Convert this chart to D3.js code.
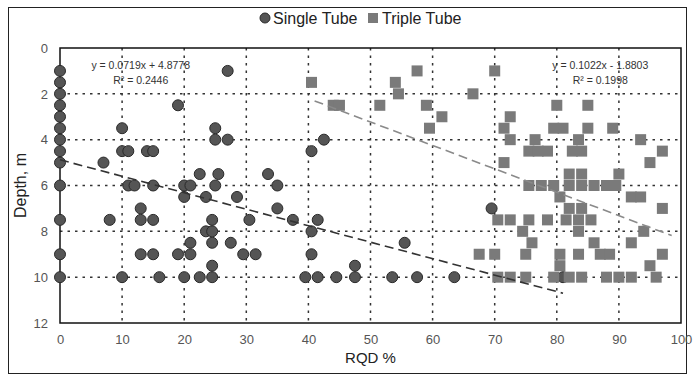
<!DOCTYPE html>
<html>
<head>
<meta charset="utf-8">
<script src="https://cdn.jsdelivr.net/npm/d3@7"></script>
<style>
  body { margin: 0; background: #fff; }
  svg { display: block; font-family: 'Liberation Sans', Arial, sans-serif; }
</style>
</head>
<body>
<div id="chart"></div>
<script>
// [RQD %, depth m]
const singleTube = [
  [0, 1], [0, 1.5], [0, 2], [0, 2.5], [0, 3], [0, 3.5], [0, 4], [0, 4.5], [0, 5],
  [0, 6], [0, 7.5], [0, 9], [0, 10],
  [27, 1], [19, 2.5], [10, 3.5], [25, 3.5], [25, 4], [27, 4], [42.5, 4],
  [10, 4.5], [11, 4.5], [14, 4.5], [15, 4.5], [40.5, 4.5], [7, 5],
  [22.5, 5.5], [25.5, 5.5], [33.5, 5.5],
  [11, 6], [12, 6], [15, 6], [20, 6], [21, 6], [25, 6], [35, 6],
  [20, 6.5], [23.5, 6.5], [28.5, 6.5],
  [13, 7], [35, 7], [69.5, 7],
  [8, 7.5], [13, 7.5], [15, 7.5], [24.5, 7.5], [30.5, 7.5], [37.5, 7.5], [41.5, 7.5],
  [23.5, 8], [24.5, 8], [40.5, 8],
  [21, 8.5], [24.5, 8.5], [27.5, 8.5], [55.5, 8.5],
  [13, 9], [15, 9], [19, 9], [21, 9], [29.5, 9], [31.5, 9], [40.5, 9],
  [24.5, 9.5], [47.5, 9.5],
  [10, 10], [16, 10], [20, 10], [22.5, 10], [24.5, 10], [39.5, 10], [41.5, 10],
  [44.5, 10], [47.5, 10], [53.5, 10], [57.5, 10], [63.5, 10], [81, 10]
]

const tripleTube = [
  [40.5, 1.5], [44, 2.5], [45, 2.5], [51.5, 2.5], [54, 1.5], [54.5, 2], [57.5, 1],
  [59, 2.5], [59.5, 3.5], [61.5, 3], [66.5, 2], [70, 1],
  [72.5, 3], [71.5, 3.5], [72.5, 4], [75.5, 4.5], [71.5, 5],
  [80, 2.5], [85, 2.5],
  [79.5, 3.5], [81, 3.5], [85, 3.5], [89, 3.5],
  [76.5, 4], [83.5, 4], [93.5, 4],
  [77, 4.5], [78.5, 4.5], [82.5, 4.5], [84, 4.5], [97, 4.5],
  [95, 5],
  [82, 5.5], [84, 5.5], [90, 5.5],
  [75.5, 6], [77.5, 6], [79.5, 6], [82, 6], [84, 6], [86, 6], [88, 6], [89.5, 6],
  [80.5, 6.5], [92, 6.5], [93.5, 6.5],
  [82, 7], [84, 7], [97, 7],
  [70.5, 7.5], [72.5, 7.5], [75.5, 7.5], [78.5, 7.5], [81.5, 7.5], [83.5, 7.5], [85.5, 7.5],
  [74.5, 8], [83.5, 8], [94, 8],
  [76, 8.5], [86, 8.5], [92, 8.5],
  [67.5, 9], [70, 9], [75, 9], [80.5, 9], [83.5, 9], [87, 9], [88.5, 9], [97, 9],
  [80.5, 9.5], [95, 9.5],
  [70.5, 10], [72.5, 10], [75, 10], [79.5, 10], [82, 10], [84, 10], [88, 10], [90, 10],
  [92, 10], [96, 10]
]

// trendlines: slope, intercept, x range
const singleTrend = { m: 0.0719, b: 4.8778, from: 0, to: 81 }
const tripleTrend = { m: 0.1022, b: -1.8803, from: 41, to: 98.5 }

const xTicks = [0, 10, 20, 30, 40, 50, 60, 70, 80, 90, 100]
const yTicks = [0, 2, 4, 6, 8, 10, 12]

const width = 694
const height = 379
const margin = { top: 48, right: 13, bottom: 56, left: 60 }
const innerW = width - margin.left - margin.right
const innerH = height - margin.top - margin.bottom

const svg = d3.select('#chart')
  .append('svg')
  .attr('width', width)
  .attr('height', height)

// outer frame
svg.append('rect')
  .attr('x', 8.5)
  .attr('y', 7.5)
  .attr('width', 678)
  .attr('height', 366)
  .attr('fill', 'none')
  .attr('stroke', '#222')
  .attr('stroke-width', 1)

const x = d3.scaleLinear().domain([0, 100]).range([0, innerW])
const y = d3.scaleLinear().domain([0, 12]).range([0, innerH])

const g = svg.append('g')
  .attr('transform', `translate(${margin.left}, ${margin.top})`)

// grid
g.append('g')
  .selectAll('line')
  .data(xTicks.slice(1, -1))
  .enter()
  .append('line')
  .attr('x1', d => x(d))
  .attr('x2', d => x(d))
  .attr('y1', 0)
  .attr('y2', innerH)
  .attr('stroke', '#333')
  .attr('stroke-width', 1.5)
  .attr('stroke-dasharray', '2.5,5')

g.append('g')
  .selectAll('line')
  .data(yTicks.slice(1, -1))
  .enter()
  .append('line')
  .attr('x1', 0)
  .attr('x2', innerW)
  .attr('y1', d => y(d))
  .attr('y2', d => y(d))
  .attr('stroke', '#333')
  .attr('stroke-width', 1.5)
  .attr('stroke-dasharray', '2.5,5')

// axes (labels only, frame drawn separately)
const xAxis = g.append('g')
  .attr('transform', `translate(0, ${innerH})`)
  .call(d3.axisBottom(x).tickValues(xTicks).tickSize(0).tickPadding(12))
xAxis.select('.domain').remove()
xAxis.selectAll('text')
  .attr('font-size', '13px')
  .attr('fill', '#555')
  .attr('font-family', 'Liberation Sans, Arial, sans-serif')

const yAxis = g.append('g')
  .call(d3.axisLeft(y).tickValues(yTicks).tickSize(0).tickPadding(12))
yAxis.select('.domain').remove()
yAxis.selectAll('text')
  .attr('font-size', '13px')
  .attr('fill', '#555')
  .attr('font-family', 'Liberation Sans, Arial, sans-serif')

// plot frame
g.append('rect')
  .attr('width', innerW)
  .attr('height', innerH)
  .attr('fill', 'none')
  .attr('stroke', '#111')
  .attr('stroke-width', 1.5)

// single tube
g.append('g')
  .selectAll('circle')
  .data(singleTube)
  .enter()
  .append('circle')
  .attr('cx', d => x(d[0]))
  .attr('cy', d => y(d[1]))
  .attr('r', 5.5)
  .attr('fill', '#555')
  .attr('stroke', '#2a2a2a')
  .attr('stroke-width', 1)

// triple tube
const sq = 11
g.append('g')
  .selectAll('rect')
  .data(tripleTube)
  .enter()
  .append('rect')
  .attr('x', d => x(d[0]) - sq / 2)
  .attr('y', d => y(d[1]) - sq / 2)
  .attr('width', sq)
  .attr('height', sq)
  .attr('fill', '#7a7a7a')

// trendlines
function trend(t, color) {
  g.append('line')
    .attr('x1', x(t.from))
    .attr('y1', y(t.m * t.from + t.b))
    .attr('x2', x(t.to))
    .attr('y2', y(t.m * t.to + t.b))
    .attr('stroke', color)
    .attr('stroke-width', 1.6)
    .attr('stroke-dasharray', '9,5')
}
trend(singleTrend, '#333')
trend(tripleTrend, '#8a8a8a')

// equations
const eq = [
  { cx: 13, lines: ['y = 0.0719x + 4.8778', 'R² = 0.2446'] },
  { cx: 87, lines: ['y = 0.1022x - 1.8803', 'R² = 0.1998'] }
]
eq.forEach(e => {
  e.lines.forEach((t, i) => {
    g.append('text')
      .attr('x', x(e.cx))
      .attr('y', 21 + i * 15)
      .attr('text-anchor', 'middle')
      .attr('font-size', '10.5px')
      .attr('fill', '#333')
      .text(t)
  })
})

// axis titles
svg.append('text')
  .attr('x', margin.left + innerW / 2)
  .attr('y', 363)
  .attr('text-anchor', 'middle')
  .attr('font-size', '15px')
  .attr('fill', '#222')
  .text('RQD %')

svg.append('text')
  .attr('transform', `translate(26, ${margin.top + innerH / 2}) rotate(-90)`)
  .attr('text-anchor', 'middle')
  .attr('font-size', '16px')
  .attr('fill', '#222')
  .text('Depth, m')

// legend
const legend = svg.append('g').attr('transform', 'translate(265, 18)')
legend.append('circle')
  .attr('cx', 0).attr('cy', 0).attr('r', 5)
  .attr('fill', '#555').attr('stroke', '#2a2a2a')
legend.append('text')
  .attr('x', 8).attr('y', 5.5)
  .attr('font-size', '16px').attr('fill', '#222')
  .text('Single Tube')
legend.append('rect')
  .attr('x', 103).attr('y', -5).attr('width', 10).attr('height', 10)
  .attr('fill', '#7a7a7a')
legend.append('text')
  .attr('x', 117).attr('y', 5.5)
  .attr('font-size', '16px').attr('fill', '#222')
  .text('Triple Tube')
</script>
</body>
</html>
